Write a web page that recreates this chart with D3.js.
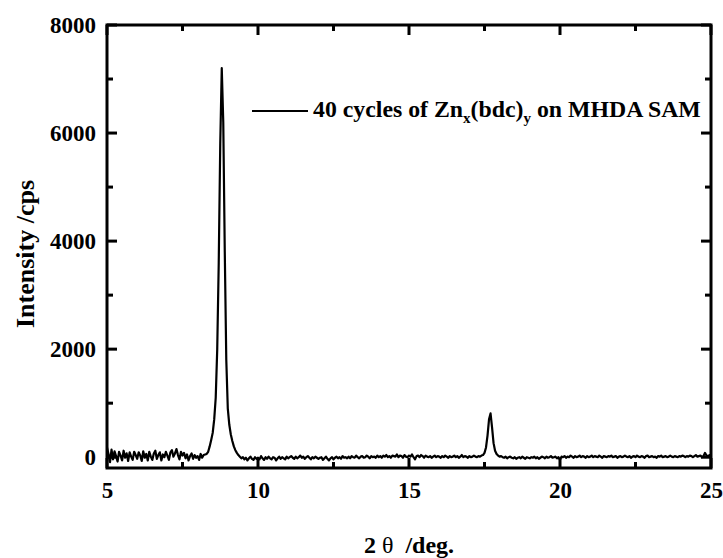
<!DOCTYPE html>
<html>
<head>
<meta charset="utf-8">
<script src="https://cdn.jsdelivr.net/npm/d3@7/dist/d3.min.js"></script>
<style>
  body { margin: 0; background: #fff; }
  text { font-family: "Liberation Serif", "Times New Roman", serif; font-weight: bold; }
</style>
</head>
<body>
<div id="chart-area"></div>
<script>
// 2 theta sampling grid (deg), 0.05 step
var twoTheta = d3.range(0, 401).map(function(i) { return +(5 + i * 0.05).toFixed(2); });

// intensity (cps), one row per degree
var intensity = [
  180, 60, -90, 140, -40, 110, 20, -80, 100, 30, -60, 120, -10, 70, -70, 90, 10, -50, 100, 40,
  -30, 90, 30, -70, 110, -10, 60, -60, 100, 10, -50, 70, 120, -30, 40, 90, -60, 50, 0, 100,
  30, -50, 90, 130, 10, 70, 150, 40, -40, 100, 30, 80, -20, 50, -60, 20, 70, -30, 40, -10,
  20, -50, 60, -10, 40, 50, 60, 100, 200, 320, 450, 700, 1100, 2000, 3600, 5800, 7200, 6200, 3800, 1800,
  900, 600, 420, 300, 200, 130, 80, 40, 10, -20, 0, -40, -10, -60, -20, 10, -30, -50, 0, -30,
  -10, -40, 20, -20, -50, 0, -30, 10, -20, -40, 0, -10, -60, -20, 10, -30, 0, -20, -40, 10,
  -20, 0, 20, -10, -30, 10, -20, 0, 30, -10, 10, -30, 0, 20, -10, -40, 0, -20, 10, -10,
  -30, -10, 0, -50, -20, 10, -30, -60, -20, 0, -40, -10, 10, -20, 0, -30, 20, -10, 0, -20,
  10, -20, 20, 0, -10, 30, 0, -20, 10, 20, -10, 0, 30, 10, -20, 20, 0, 10, -10, 30,
  0, 20, -10, 30, 10, 40, 0, 20, -10, 30, 20, 10, 50, 0, 30, 20, -10, 40, 10, 0,
  30, 10, 50, 0, -40, 20, 30, 0, 40, 20, -10, 30, 10, 0, 20, -10, 10, 30, 0, 20,
  10, -10, 20, 0, 30, 10, -10, 20, 0, 10, 30, 0, 20, -10, 10, 40, 0, 20, 10, -10,
  20, 0, 10, 30, 10, 0, 20, 10, 30, 40, 80, 180, 400, 700, 810, 550, 260, 120, 60, 30,
  10, 20, 0, -10, 10, -20, 0, 10, -10, -20, 0, -30, -10, 0, -20, 10, -10, -30, 0, -10,
  -20, 0, -10, 10, -20, 0, -30, -10, 10, 0, -20, 10, -10, 0, 20, -10, 0, 10, -20, 0,
  -50, 10, 0, 20, -10, 10, 0, 30, 10, -10, 20, 0, 10, 30, 0, 20, 10, -10, 20, 0,
  10, 30, 0, 20, 10, 0, 30, 10, -10, 20, 10, 0, 20, 10, 30, 0, 10, 20, -10, 10,
  20, 0, 10, 30, 10, 0, 20, -10, 10, 20, 0, 30, 10, 0, 20, 10, -10, 20, 30, 0,
  10, 20, 0, 10, -10, 20, 10, 30, 0, 10, 20, 0, 10, 30, 10, 0, 20, 10, 0, 20,
  10, 30, 20, 0, 20, 10, 30, 20, 0, 20, 40, 10, 20, 30, 0, 20, 80, 30, 20, 40,
  30
];

var xMajor = [5, 10, 15, 20, 25];
var xMinor = [7.5, 12.5, 17.5, 22.5];
var yMajor = [0, 2000, 4000, 6000, 8000];
var yMinor = [1000, 3000, 5000, 7000];

var margin = { top: 25, bottom: 90, left: 107, right: 12 };
var width = 723 - margin.left - margin.right;
var height = 558 - margin.top - margin.bottom;

var svg = d3.select("#chart-area").append("svg")
    .attr("width", 723)
    .attr("height", 558);

var g = svg.append("g")
    .attr("transform", "translate(" + margin.left + " " + margin.top + ")");

var x = d3.scaleLinear().domain([5, 25]).range([0, width]);
var y = d3.scaleLinear().domain([-200, 8000]).range([height, 0]);

var data = twoTheta.map(function(t, i) { return { t: t, v: intensity[i] }; });

// data line
g.append("path")
    .datum(data)
    .attr("fill", "none")
    .attr("stroke", "#000")
    .attr("stroke-width", 2.2)
    .attr("stroke-linejoin", "round")
    .attr("d", d3.line()
        .x(function(d) { return x(d.t); })
        .y(function(d) { return y(d.v); }));

// tick labels through d3 axes
var yAx = g.append("g")
    .call(d3.axisLeft(y).tickValues(yMajor).tickFormat(d3.format("d")).tickSize(0).tickPadding(11));
var xAx = g.append("g")
    .attr("transform", "translate(0 " + height + ")")
    .call(d3.axisBottom(x).tickValues(xMajor).tickFormat(d3.format("d")).tickSize(0).tickPadding(14));
[yAx, xAx].forEach(function(ax) {
    ax.select(".domain").remove();
    ax.selectAll("text").attr("font-size", 23).attr("fill", "#000")
        .style("font-family", "'Liberation Serif', 'Times New Roman', serif")
        .style("font-weight", "bold");
});

// frame
g.append("rect")
    .attr("x", 0).attr("y", 0)
    .attr("width", width).attr("height", height)
    .attr("fill", "none")
    .attr("stroke", "#000")
    .attr("stroke-width", 3);

// inward ticks on all four sides
var tickG = g.append("g").attr("fill", "#000");
function addY(vals, len) {
    vals.forEach(function(d) {
        tickG.append("rect").attr("x", 0).attr("y", y(d) - 1.5).attr("width", len).attr("height", 3);
        tickG.append("rect").attr("x", width - len).attr("y", y(d) - 1.5).attr("width", len).attr("height", 3);
    });
}
function addX(vals, len) {
    vals.forEach(function(d) {
        tickG.append("rect").attr("x", x(d) - 1.5).attr("y", height - len).attr("width", 3).attr("height", len);
        tickG.append("rect").attr("x", x(d) - 1.5).attr("y", 0).attr("width", 3).attr("height", len);
    });
}
addY(yMajor, 10);
addY(yMinor, 6);
addX(xMajor, 10);
addX(xMinor, 6);

// legend
var legY = 111;
svg.append("line")
    .attr("x1", 252).attr("x2", 308)
    .attr("y1", legY).attr("y2", legY)
    .attr("stroke", "#000").attr("stroke-width", 2);
var leg = svg.append("text")
    .attr("x", 313).attr("y", 117)
    .attr("font-size", 23.8)
    .attr("xml:space", "preserve")
    .style("white-space", "pre");
leg.append("tspan").text("40 cycles of Zn");
leg.append("tspan").attr("font-size", 15).attr("dy", 6).text("x");
leg.append("tspan").attr("dy", -6).text("(bdc)");
leg.append("tspan").attr("font-size", 15).attr("dy", 6).text("y");
leg.append("tspan").attr("dy", -6).text(" on MHDA SAM");

// axis titles
var xt = svg.append("text")
    .attr("x", margin.left + width / 2)
    .attr("y", 553)
    .attr("text-anchor", "middle")
    .attr("font-size", 24)
    .attr("xml:space", "preserve")
    .style("white-space", "pre");
xt.append("tspan").text("2 ");
xt.append("tspan").style("font-weight", "normal").text("θ");
xt.append("tspan").text("  /deg.");

svg.append("text")
    .attr("transform", "translate(34 254) rotate(-90)")
    .attr("text-anchor", "middle")
    .attr("font-size", 26)
    .text("Intensity /cps");
</script>
</body>
</html>
